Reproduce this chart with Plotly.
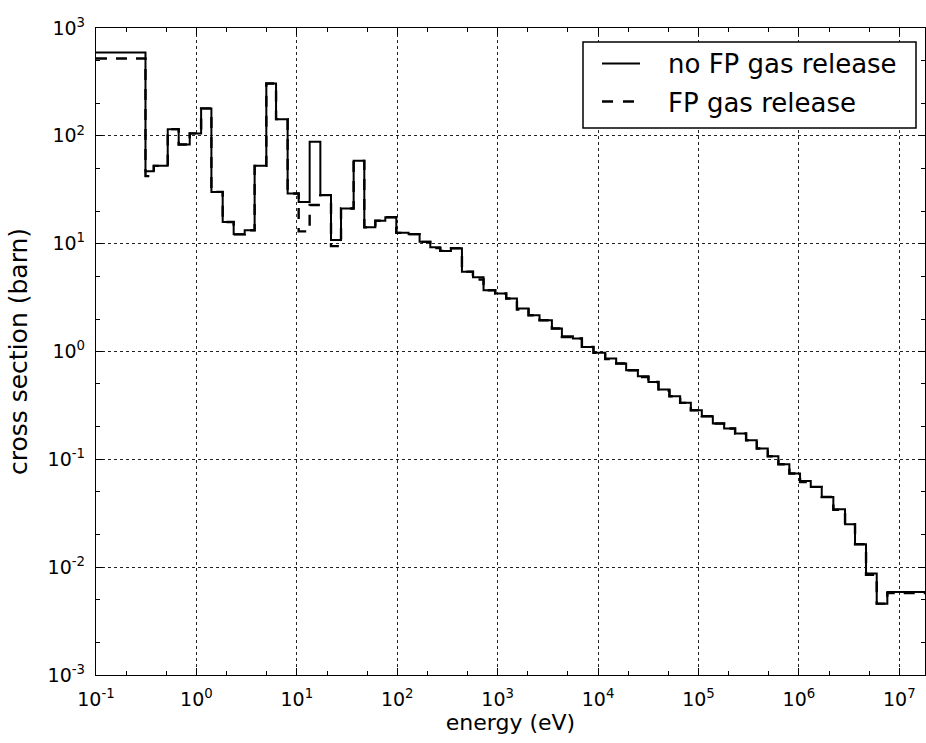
import plotly.graph_objects as go

# Group boundaries (eV)
energy_edges = [
    0.1, 0.311, 0.376, 0.518, 0.666, 0.858, 1.114, 1.41, 1.827, 2.35,
    3.025, 3.80, 4.97, 6.21, 8.10, 10.43, 13.42, 17.15, 21.9, 27.55,
    36.8, 47.0, 60.5, 76.1, 97.9, 129.8, 167, 213.4, 268.3, 342.8,
    441, 567.7, 723.7, 946, 1217, 1556, 2030, 2612, 3470, 4364,
    5616, 6902, 9004, 11775, 15150, 19050, 24910, 31760, 39950, 51390,
    65680, 83940, 108000, 139000, 180100, 231700, 298100, 380900, 490200, 625000,
    804000, 1.027e6, 1.313e6, 1.689e6, 2.204e6, 2.882e6, 3.624e6, 4.664e6, 5.96e6, 7.6e6,
    2.0e7,
]

# Group cross sections (barn), no FP gas release
xs_no_release = [
    594, 47.0, 52.7, 115.4, 83.2, 105.3, 179.6, 30.2, 15.9, 12.2,
    13.3, 52.7, 306, 142.8, 29.2, 24.4, 88.0, 28.2, 10.8, 21.2,
    58.6, 14.2, 16.3, 17.6, 12.6, 12.25, 10.4, 9.28, 8.57, 9.08,
    5.50, 4.89, 3.70, 3.45, 3.10, 2.51, 2.17, 1.95, 1.635, 1.387,
    1.32, 1.103, 0.975, 0.861, 0.774, 0.671, 0.590, 0.522, 0.444, 0.385,
    0.334, 0.2855, 0.251, 0.215, 0.193, 0.1735, 0.1504, 0.1259, 0.1069, 0.0901,
    0.0738, 0.0630, 0.0555, 0.0448, 0.0344, 0.0250, 0.0163, 0.00872, 0.00459, 0.00589,
]

# Group cross sections (barn), FP gas release
xs_release = [
    522, 42.3, 52.7, 115.4, 83.2, 105.3, 179.6, 30.2, 15.9, 12.2,
    13.3, 52.7, 306, 142.8, 29.2, 13.0, 22.8, 28.2, 9.48, 21.2,
    58.6, 14.2, 16.3, 17.6, 12.6, 12.25, 10.4, 9.1, 8.57, 9.08,
    5.50, 4.66, 3.70, 3.45, 3.10, 2.45, 2.17, 1.95, 1.635, 1.36,
    1.32, 1.103, 0.975, 0.85, 0.774, 0.671, 0.580, 0.522, 0.435, 0.385,
    0.334, 0.2855, 0.251, 0.215, 0.193, 0.1735, 0.1504, 0.1259, 0.1069, 0.0901,
    0.0738, 0.0615, 0.0555, 0.0448, 0.0340, 0.0250, 0.0163, 0.0085, 0.00459, 0.00575,
]

series_names = ["no FP gas release", "FP gas release"]

x_tickvals = [1e-1, 1e0, 1e1, 1e2, 1e3, 1e4, 1e5, 1e6, 1e7]
x_ticktext = ["10<sup>-1</sup>", "10<sup>0</sup>", "10<sup>1</sup>", "10<sup>2</sup>",
              "10<sup>3</sup>", "10<sup>4</sup>", "10<sup>5</sup>", "10<sup>6</sup>",
              "10<sup>7</sup>"]
y_tickvals = [1e-3, 1e-2, 1e-1, 1e0, 1e1, 1e2, 1e3]
y_ticktext = ["10<sup>-3</sup>", "10<sup>-2</sup>", "10<sup>-1</sup>", "10<sup>0</sup>",
              "10<sup>1</sup>", "10<sup>2</sup>", "10<sup>3</sup>"]

FONT = "DejaVu Sans"
DASH = "11px,9px"

fig = go.Figure()
fig.add_trace(go.Scatter(
    x=energy_edges, y=xs_no_release + [xs_no_release[-1]],
    mode="lines", line=dict(shape="hv", color="black", width=2),
    name=series_names[0], showlegend=False,
))
fig.add_trace(go.Scatter(
    x=energy_edges, y=xs_release + [xs_release[-1]],
    mode="lines", line=dict(shape="hv", color="black", width=2.4, dash=DASH),
    name=series_names[1], showlegend=False,
))

axis_common = dict(
    type="log", automargin=False,
    showline=True, linecolor="black", linewidth=1.3, mirror="allticks",
    ticks="inside", ticklen=7, tickwidth=1, tickcolor="black",
    showgrid=True, gridcolor="#222222", gridwidth=1, griddash="dot",
    zeroline=False,
    tickfont=dict(family=FONT, size=19, color="black"),
    minor=dict(ticks="inside", ticklen=4, tickwidth=1, tickcolor="black", showgrid=False),
)

fig.update_xaxes(
    **axis_common,
    range=[-1, 7.256],
    tickmode="array", tickvals=x_tickvals, ticktext=x_ticktext,
    ticklabelstandoff=7,
    title=dict(text="energy (eV)", font=dict(family=FONT, size=22, color="black"), standoff=0),
)
fig.update_yaxes(
    **axis_common,
    range=[-3, 3],
    tickmode="array", tickvals=y_tickvals, ticktext=y_ticktext,
    ticklabelstandoff=6,
    title=dict(text="cross section (barn)", font=dict(family=FONT, size=25, color="black"), standoff=12),
)

# Legend (box, line samples and labels in paper coordinates)
def px_x(p):
    return (p - 96) / 829.0

def px_y(p):
    return 1 - (p - 28) / 647.0

fig.add_shape(type="rect", xref="paper", yref="paper",
              x0=px_x(583), x1=px_x(916), y0=px_y(128), y1=px_y(42),
              line=dict(color="black", width=1.5), fillcolor="white", layer="above")
fig.add_shape(type="line", xref="paper", yref="paper",
              x0=px_x(602), x1=px_x(640), y0=px_y(63.5), y1=px_y(63.5),
              line=dict(color="black", width=2), layer="above")
fig.add_shape(type="line", xref="paper", yref="paper",
              x0=px_x(602), x1=px_x(635), y0=px_y(101.5), y1=px_y(101.5),
              line=dict(color="black", width=2.6, dash="11px,10px"), layer="above")
for name, yc in zip(series_names, [63.5, 101.5]):
    fig.add_annotation(xref="paper", yref="paper", x=px_x(666), y=px_y(yc + 1),
                       text=name, showarrow=False, xanchor="left", yanchor="middle",
                       font=dict(family=FONT, size=26, color="black"))

fig.update_layout(
    width=926, height=743,
    margin=dict(l=96, r=1, t=28, b=68),
    paper_bgcolor="white", plot_bgcolor="white",
    font=dict(family=FONT, color="black"),
    showlegend=False,
)

fig.write_html("out.html", config={"displayModeBar": False},
               post_script="document.body.style.margin='0';document.body.style.overflow='hidden';")
